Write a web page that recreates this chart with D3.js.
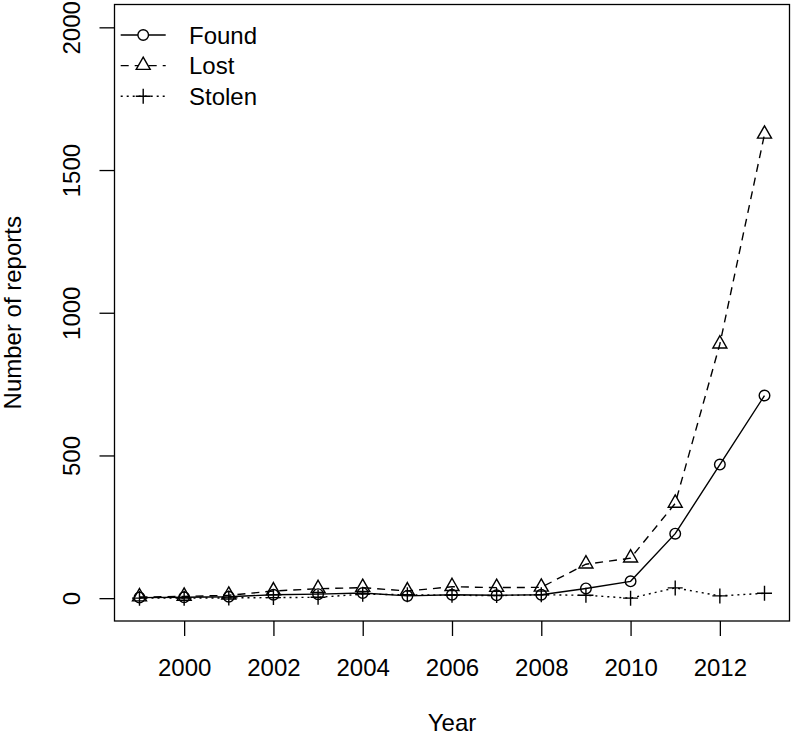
<!DOCTYPE html>
<html>
<head>
<meta charset="utf-8">
<script src="https://cdn.jsdelivr.net/npm/d3@7"></script>
<style>
  body { margin: 0; background: #fff; }
  svg { display: block; }
  text { font-family: "Liberation Sans", Arial, sans-serif; fill: #000; }
</style>
</head>
<body>
<div id="chart"></div>
<script>
// data
const years  = [1999, 2000, 2001, 2002, 2003, 2004, 2005, 2006, 2007, 2008, 2009, 2010, 2011, 2012, 2013];
const found  = [2, 3, 5, 12, 14, 18, 8, 12, 10, 12, 34, 59, 226, 468, 710];
const lost   = [4, 6, 10, 25, 33, 37, 25, 40, 37, 38, 119, 140, 332, 890, 1625];
const stolen = [0, 0, 1, 2, 3, 14, 12, 10, 9, 12, 10, 0, 36, 8, 17];
const seriesNames = ["Found", "Lost", "Stolen"];
const xTicks = [2000, 2002, 2004, 2006, 2008, 2010, 2012];
const yTicks = [0, 500, 1000, 1500, 2000];
const xTitle = "Year";
const yTitle = "Number of reports";

const width = 791, height = 736;
const box = {left: 114.5, top: 4.5, right: 789.5, bottom: 621};
const fontSize = 24;

const svg = d3.select("#chart").append("svg")
    .attr("width", width)
    .attr("height", height);

svg.append("rect").attr("width", width).attr("height", height).attr("fill", "#fff");

// R style 4% padding on both axes
const x = d3.scaleLinear().domain([1998.44, 2013.56]).range([box.left, box.right]);
const y = d3.scaleLinear().domain([-80, 2080]).range([box.bottom, box.top]);

// styles per series
const styles = [
    {dash: null,  shape: "circle"},
    {dash: "8,6", shape: "triangle"},
    {dash: "2,4", shape: "plus"}
];
const seriesValues = [found, lost, stolen];

function markerPath(shape) {
    if (shape === "circle") return d3.arc()({innerRadius: 0, outerRadius: 5.3, startAngle: 0, endAngle: 2 * Math.PI});
    if (shape === "triangle") return "M0,-8.5L7,3.8L-7,3.8Z";
    return "M-7.5,0H7.5M0,-7.5V7.5";
}

// axes
const xAxis = d3.axisBottom(x).tickValues(xTicks).tickSize(15).tickSizeOuter(0).tickPadding(23)
    .tickFormat(d3.format("d"));
const gx = svg.append("g")
    .attr("transform", `translate(0, ${box.bottom})`)
    .call(xAxis);
gx.select(".domain").remove();
gx.selectAll("line").attr("stroke", "#000").attr("stroke-width", 1.3);
gx.selectAll("text").attr("font-size", fontSize).attr("font-family", null);

const yAxis = d3.axisLeft(y).tickValues(yTicks).tickSize(15).tickSizeOuter(0)
    .tickFormat(d3.format("d"));
const gy = svg.append("g")
    .attr("transform", `translate(${box.left}, 0)`)
    .call(yAxis);
gy.select(".domain").remove();
gy.selectAll("line").attr("stroke", "#000").attr("stroke-width", 1.3);
gy.selectAll("text")
    .attr("font-size", fontSize)
    .attr("font-family", null)
    .attr("transform", "rotate(-90)")
    .attr("text-anchor", "middle")
    .attr("x", 0)
    .attr("y", -34.5)
    .attr("dy", null);

// plot box
svg.append("rect")
    .attr("x", box.left).attr("y", box.top)
    .attr("width", box.right - box.left).attr("height", box.bottom - box.top)
    .attr("fill", "none").attr("stroke", "#000").attr("stroke-width", 1.3);

// titles
svg.append("text")
    .attr("x", (box.left + box.right) / 2)
    .attr("y", 731)
    .attr("text-anchor", "middle")
    .attr("font-size", fontSize)
    .text(xTitle);

svg.append("text")
    .attr("transform", `translate(21, ${(box.top + box.bottom) / 2}) rotate(-90)`)
    .attr("text-anchor", "middle")
    .attr("font-size", fontSize)
    .text(yTitle);

// lines and points
const line = d3.line()
    .x((d, i) => x(years[i]))
    .y(d => y(d));

seriesValues.forEach((vals, k) => {
    svg.append("path")
        .datum(vals)
        .attr("d", line)
        .attr("fill", "none")
        .attr("stroke", "#000")
        .attr("stroke-width", 1.4)
        .attr("stroke-dasharray", styles[k].dash);

    svg.append("g").selectAll("path")
        .data(vals)
        .join("path")
        .attr("transform", (d, i) => `translate(${x(years[i])}, ${y(d)})`)
        .attr("d", markerPath(styles[k].shape))
        .attr("fill", "none")
        .attr("stroke", "#000")
        .attr("stroke-width", 1.4);
});

// legend (top left, no frame)
const legend = svg.append("g");
seriesNames.forEach((name, k) => {
    const cy = 35 + k * 30.6;
    const row = legend.append("g").attr("transform", `translate(0, ${cy})`);
    row.append("line")
        .attr("x1", 120.7).attr("x2", 165.7)
        .attr("stroke", "#000").attr("stroke-width", 1.4)
        .attr("stroke-dasharray", styles[k].dash);
    row.append("path")
        .attr("transform", "translate(143.2, 0)")
        .attr("d", markerPath(styles[k].shape))
        .attr("fill", styles[k].shape === "plus" ? "none" : "#fff")
        .attr("stroke", "#000").attr("stroke-width", 1.4);
    row.append("text")
        .attr("x", 189)
        .attr("y", 8.7)
        .attr("font-size", fontSize)
        .text(name);
});
</script>
</body>
</html>
